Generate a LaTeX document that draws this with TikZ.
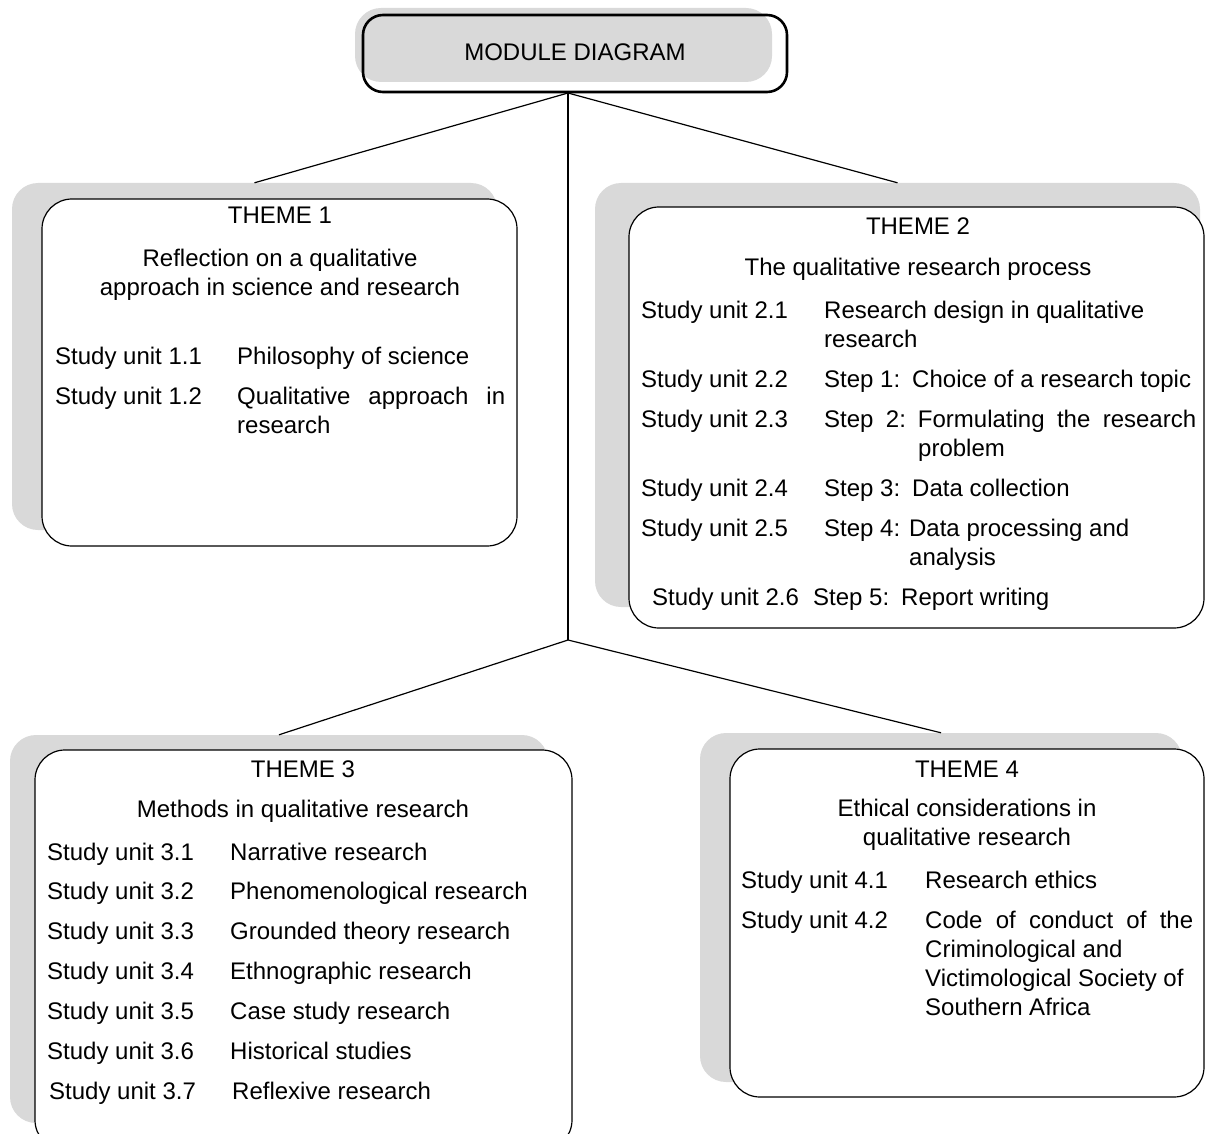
\documentclass[tikz,border=0pt]{standalone}
\usepackage{fontspec}
\setmainfont{Liberation Sans}
\usetikzlibrary{fit}
\definecolor{shadowgrey}{RGB}{217,217,217}

\tikzset{
  shadowbox/.style={fill=shadowgrey, inner sep=0pt, rounded corners=26pt},
  themebox/.style={draw=black, fill=white, line width=1.2pt, inner sep=0pt, rounded corners=30pt},
  titlebox/.style={draw=black, line width=2.6pt, inner sep=0pt, rounded corners=20pt},
  txt/.style={font=\fontsize{24}{29}\selectfont, inner sep=0pt, anchor=base west},
  head/.style={font=\fontsize{24}{29}\selectfont, inner sep=0pt, anchor=base},
  link/.style={line width=1.2pt}
}

\begin{document}
\begin{tikzpicture}[x=1pt, y=-1pt]
\useasboundingbox (0,0) rectangle (1205,1134);

% shadows
\node[shadowbox, fit={(355,8) (772,82)}] (s0) {};
\node[shadowbox, fit={(12,183) (497,530)}] (s1) {};
\node[shadowbox, fit={(595,183) (1200,607)}] (s2) {};
\node[shadowbox, fit={(10,735) (548,1123)}] (s3) {};
\node[shadowbox, fit={(700,733) (1182,1082)}] (s4) {};

% boxes
\node[titlebox, fit={(363,15) (787,92)}] (mod) {};
\node[themebox, fit={(42,199) (517,546)}] (t1) {};
\node[themebox, fit={(629,207) (1204,628)}] (t2) {};
\node[themebox, fit={(35,750) (572,1150)}] (t3) {};
\node[themebox, fit={(730,749) (1204,1097)}] (t4) {};

% connectors
\coordinate (top) at (568,93);
\coordinate (hub) at (568,640);
\draw[link] (top) -- (hub);
\draw[link] (top) -- (s1.north);
\draw[link] (top) -- (s2.north);
\draw[link] (hub) -- (s3.north);
\draw[link] (hub) -- (s4.north);

\node[head] (modtext) at (575,61) {MODULE DIAGRAM};

% theme 1
\node[head] (h1) at (280,224) {THEME 1};
\node[head] (h1a) at (280,266) {Reflection on a qualitative};
\node[head] (h1b) at (280,295) {approach in science and research};
\node[txt] (u11) at (55,364) {Study unit 1.1};
\node[txt] (d11) at (237,364) {Philosophy of science};
\node[txt] (u12) at (55,404) {Study unit 1.2};
\node[txt] (d12) at (237,404) {\makebox[268pt][s]{Qualitative approach in}};
\node[txt] (d12b) at (237,433) {research};

% theme 2
\node[head] (h2) at (918,235) {THEME 2};
\node[head] (h2a) at (918,276) {The qualitative research process};
\node[txt] (u21) at (641,318) {Study unit 2.1};
\node[txt] (d21) at (824,318) {Research design in qualitative};
\node[txt] (d21b) at (824,347) {research};
\node[txt] (u22) at (641,387) {Study unit 2.2};
\node[txt] (d22) at (824,387) {Step 1:\enspace Choice of a research topic};
\node[txt] (u23) at (641,427) {Study unit 2.3};
\node[txt] (d23) at (824,427) {\makebox[372pt][s]{Step 2:\enspace Formulating the research}};
\node[txt] (d23b) at (918,456) {problem};
\node[txt] (u24) at (641,496) {Study unit 2.4};
\node[txt] (d24) at (824,496) {Step 3:\enspace Data collection};
\node[txt] (u25) at (641,536) {Study unit 2.5};
\node[txt] (d25) at (824,536) {Step 4: Data processing and};
\node[txt] (d25b) at (909,565) {analysis};
\node[txt] (u26) at (652,605) {Study unit 2.6};
\node[txt] (d26) at (813,605) {Step 5:\enspace Report writing};

% theme 3
\node[head] (h3) at (303,777) {THEME 3};
\node[head] (h3a) at (303,817) {Methods in qualitative research};
\foreach \i/\y/\txt in {1/860/Narrative research,
                        2/899/Phenomenological research,
                        3/939/Grounded theory research,
                        4/979/Ethnographic research,
                        5/1019/Case study research,
                        6/1059/Historical studies}{
  \node[txt] (u3\i) at (47,\y) {Study unit 3.\i};
  \node[txt] (d3\i) at (230,\y) {\txt};
}
\node[txt] (u37) at (49,1099) {Study unit 3.7};
\node[txt] (d37) at (232,1099) {Reflexive research};

% theme 4
\node[head] (h4) at (967,777) {THEME 4};
\node[head] (h4a) at (967,816) {Ethical considerations in};
\node[head] (h4b) at (967,845) {qualitative research};
\node[txt] (u41) at (741,888) {Study unit 4.1};
\node[txt] (d41) at (925,888) {Research ethics};
\node[txt] (u42) at (741,928) {Study unit 4.2};
\node[txt] (d42) at (925,928) {\makebox[268pt][s]{Code of conduct of the}};
\node[txt] (d42b) at (925,957) {Criminological and};
\node[txt] (d42c) at (925,986) {Victimological Society of};
\node[txt] (d42d) at (925,1015) {Southern Africa};
\end{tikzpicture}
\end{document}
